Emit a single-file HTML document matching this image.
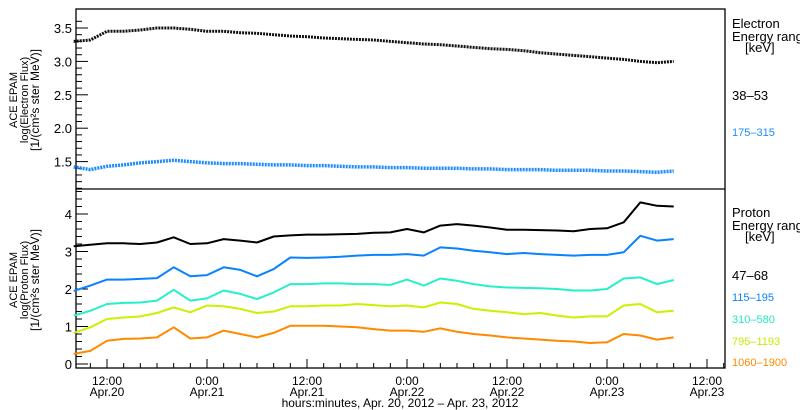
<!DOCTYPE html>
<html><head><meta charset="utf-8"><style>
html,body{margin:0;padding:0;background:#fff;width:800px;height:410px;overflow:hidden}
svg{display:block;font-family:"Liberation Sans",sans-serif}
</style></head><body>
<svg id="c" width="800" height="410" viewBox="0 0 800 410"></svg>
<script>
// time in hours since Apr 20 00:00, every 2h from 8 to 80
const times = [8,10,12,14,16,18,20,22,24,26,28,30,32,34,36,38,40,42,44,46,48,50,52,54,56,58,60,62,64,66,68,70,72,74,76,78,80];
const elec38 = [3.30,3.32,3.45,3.45,3.47,3.50,3.50,3.48,3.45,3.45,3.43,3.42,3.40,3.38,3.37,3.35,3.34,3.33,3.32,3.30,3.28,3.26,3.25,3.23,3.21,3.19,3.18,3.16,3.13,3.11,3.09,3.07,3.05,3.03,3.00,2.98,3.00];
const elec175 = [1.42,1.38,1.43,1.45,1.48,1.50,1.52,1.50,1.48,1.47,1.47,1.46,1.45,1.45,1.44,1.44,1.43,1.42,1.42,1.41,1.41,1.40,1.40,1.40,1.39,1.39,1.38,1.38,1.38,1.37,1.37,1.37,1.36,1.36,1.35,1.34,1.36];
const prot47 = [3.14,3.18,3.22,3.22,3.20,3.24,3.38,3.20,3.22,3.33,3.29,3.24,3.40,3.43,3.45,3.45,3.46,3.47,3.50,3.51,3.60,3.51,3.69,3.73,3.69,3.64,3.58,3.58,3.57,3.56,3.54,3.60,3.62,3.78,4.31,4.22,4.20];
const prot115 = [1.95,2.09,2.25,2.25,2.27,2.29,2.58,2.34,2.37,2.58,2.51,2.34,2.53,2.84,2.83,2.84,2.86,2.89,2.91,2.91,2.93,2.89,3.11,3.08,3.02,2.98,2.93,2.96,2.93,2.91,2.89,2.91,2.91,2.98,3.42,3.29,3.33];
const prot310 = [1.29,1.42,1.60,1.63,1.64,1.69,1.98,1.69,1.75,1.96,1.87,1.73,1.91,2.13,2.13,2.15,2.15,2.13,2.13,2.11,2.25,2.09,2.28,2.22,2.13,2.07,2.04,2.03,2.02,2.00,1.96,1.96,2.00,2.28,2.31,2.13,2.24];
const prot795 = [0.83,0.98,1.20,1.24,1.27,1.36,1.51,1.38,1.56,1.54,1.47,1.36,1.40,1.54,1.54,1.56,1.56,1.60,1.57,1.54,1.56,1.51,1.64,1.60,1.47,1.42,1.38,1.33,1.36,1.29,1.24,1.27,1.27,1.56,1.60,1.38,1.42];
const prot1060 = [0.27,0.35,0.62,0.67,0.68,0.71,0.98,0.68,0.71,0.89,0.80,0.71,0.83,1.02,1.02,1.02,1.00,0.98,0.93,0.89,0.89,0.86,0.95,0.86,0.80,0.76,0.71,0.68,0.65,0.62,0.60,0.56,0.58,0.80,0.76,0.65,0.71];
const topTicks = [1.5,2.0,2.5,3.0,3.5];
const botTicks = [0,1,2,3,4];
const xTickHours = [12,24,36,48,60,72,84];
const xTickLabels = [["12:00","Apr.20"],["0:00","Apr.21"],["12:00","Apr.21"],["0:00","Apr.22"],["12:00","Apr.22"],["0:00","Apr.23"],["12:00","Apr.23"]];

const NS="http://www.w3.org/2000/svg";
const svg=document.getElementById('c');
const L=76,R=725,T=9,MID=189,B=368;
const xs=t=>107+(t-12)*(600/72);
const yTop=v=>28+(3.5-v)*66.8;
const yBot=v=>364-v*37.5;
function mk(tag,at,parent){const e=document.createElementNS(NS,tag);for(const k in at)e.setAttribute(k,at[k]);(parent||svg).appendChild(e);return e;}

const frame=mk('rect',{x:L,y:T,width:R-L,height:B-T,fill:'none',stroke:'#000','stroke-width':1.3});


const div=mk('line',{x1:L,x2:R,y1:MID,y2:MID,stroke:'#000','stroke-width':1.3});



for(let i=11;i<=36;i++){const v=i/10;const y=yTop(v);if(y<T||y>MID)continue;const maj=(i%5===0);
 const l=mk('line',{x1:L,x2:L+(maj?12:6),y1:y,y2:y,stroke:'#000'});
 
 }
topTicks.forEach(v=>{const t=mk('text',{x:L-4,y:yTop(v)+5,'text-anchor':'end','font-size':13});t.textContent=v.toFixed(1);
 
 });
for(let i=0;i<=23;i++){const v=i/5;const y=yBot(v);if(y<MID||y>B)continue;const maj=(i%5===0);
 const l=mk('line',{x1:L,x2:L+(maj?12:6),y1:y,y2:y,stroke:'#000'});
 
 }
botTicks.forEach(v=>{const t=mk('text',{x:L-4,y:yBot(v)+5,'text-anchor':'end','font-size':13});t.textContent=String(v);
 
 });
for(let h=8;h<=86;h+=2){const x=xs(h);if(x<L||x>R)continue;const maj=(h%12===0);
 const l=mk('line',{x1:x,x2:x,y1:B,y2:B-(maj?9:5),stroke:'#000'});
 
 }
xTickHours.forEach((h,i)=>{const x=xs(h);
 const a=mk('text',{x:x,y:385,'text-anchor':'middle','font-size':12});a.textContent=xTickLabels[i][0];
 
 
 const b=mk('text',{x:x,y:396,'text-anchor':'middle','font-size':12});b.textContent=xTickLabels[i][1];
 
 });
const xt=mk('text',{x:400,y:407,'text-anchor':'middle','font-size':12});xt.textContent='hours:minutes, Apr. 20, 2012 \u2013 Apr. 23, 2012';



function ytitle(cx,cy,lines,name){const g=mk('g',{transform:`translate(${cx},${cy}) rotate(-90)`});
 
 
 lines.forEach((s,i)=>{const t=mk('text',{x:0,y:i*11,'text-anchor':'middle','font-size':i==2?12:11},g);t.textContent=s;});}
ytitle(17,100,['ACE EPAM','log(Electron Flux)','[1/(cm\u00b2s ster MeV)]'],'top-y-axis-title');
ytitle(17,280,['ACE EPAM','log(Proton Flux)','[1/(cm\u00b2s ster MeV)]'],'bottom-y-axis-title');

function series(vals,yf,color,w,name){const pts=times.map((t,i)=>xs(t).toFixed(1)+','+yf(vals[i]).toFixed(1)).join(' ');
 const p=mk('polyline',{points:pts,fill:'none',stroke:color,'stroke-width':w,'stroke-linejoin':'round','stroke-dasharray':w>2?'2 1':'none'});
 
 }
series(elec38,yTop,'#111',3,'series-electron-38-53');
series(elec175,yTop,'#1e8cff',3.5,'series-electron-175-315');
series(prot47,yBot,'#000',2,'series-proton-47-68');
series(prot115,yBot,'#0a82ff',2,'series-proton-115-195');
series(prot310,yBot,'#25f0c8',2,'series-proton-310-580');
series(prot795,yBot,'#ccf000',2,'series-proton-795-1193');
series(prot1060,yBot,'#ff8a00',2,'series-proton-1060-1900');

function txt(x,y,s,size,color,name){const t=mk('text',{x:x,y:y,'font-size':size,fill:color});t.textContent=s;
 
 }
txt(732,28,'Electron',13,'#000','electron-legend-title');
txt(732,41,'Energy range',13,'#000','electron-legend-subtitle');
txt(745,52,'[keV]',13,'#000','electron-legend-unit');
txt(732,100,'38\u201353',13,'#000','legend-electron-38-53');
txt(732,136,'175\u2013315',11,'#1e8cff','legend-electron-175-315');
txt(732,217,'Proton',13,'#000','proton-legend-title');
txt(732,230,'Energy range',13,'#000','proton-legend-subtitle');
txt(745,241,'[keV]',13,'#000','proton-legend-unit');
txt(732,280,'47\u201368',13,'#000','legend-proton-47-68');
txt(732,301,'115\u2013195',11,'#0a82ff','legend-proton-115-195');
txt(732,323,'310\u2013580',11,'#25e8c0','legend-proton-310-580');
txt(732,345,'795\u20131193',11,'#c8e800','legend-proton-795-1193');
txt(732,366,'1060\u20131900',11,'#ff8a00','legend-proton-1060-1900');
</script>
</body></html>
